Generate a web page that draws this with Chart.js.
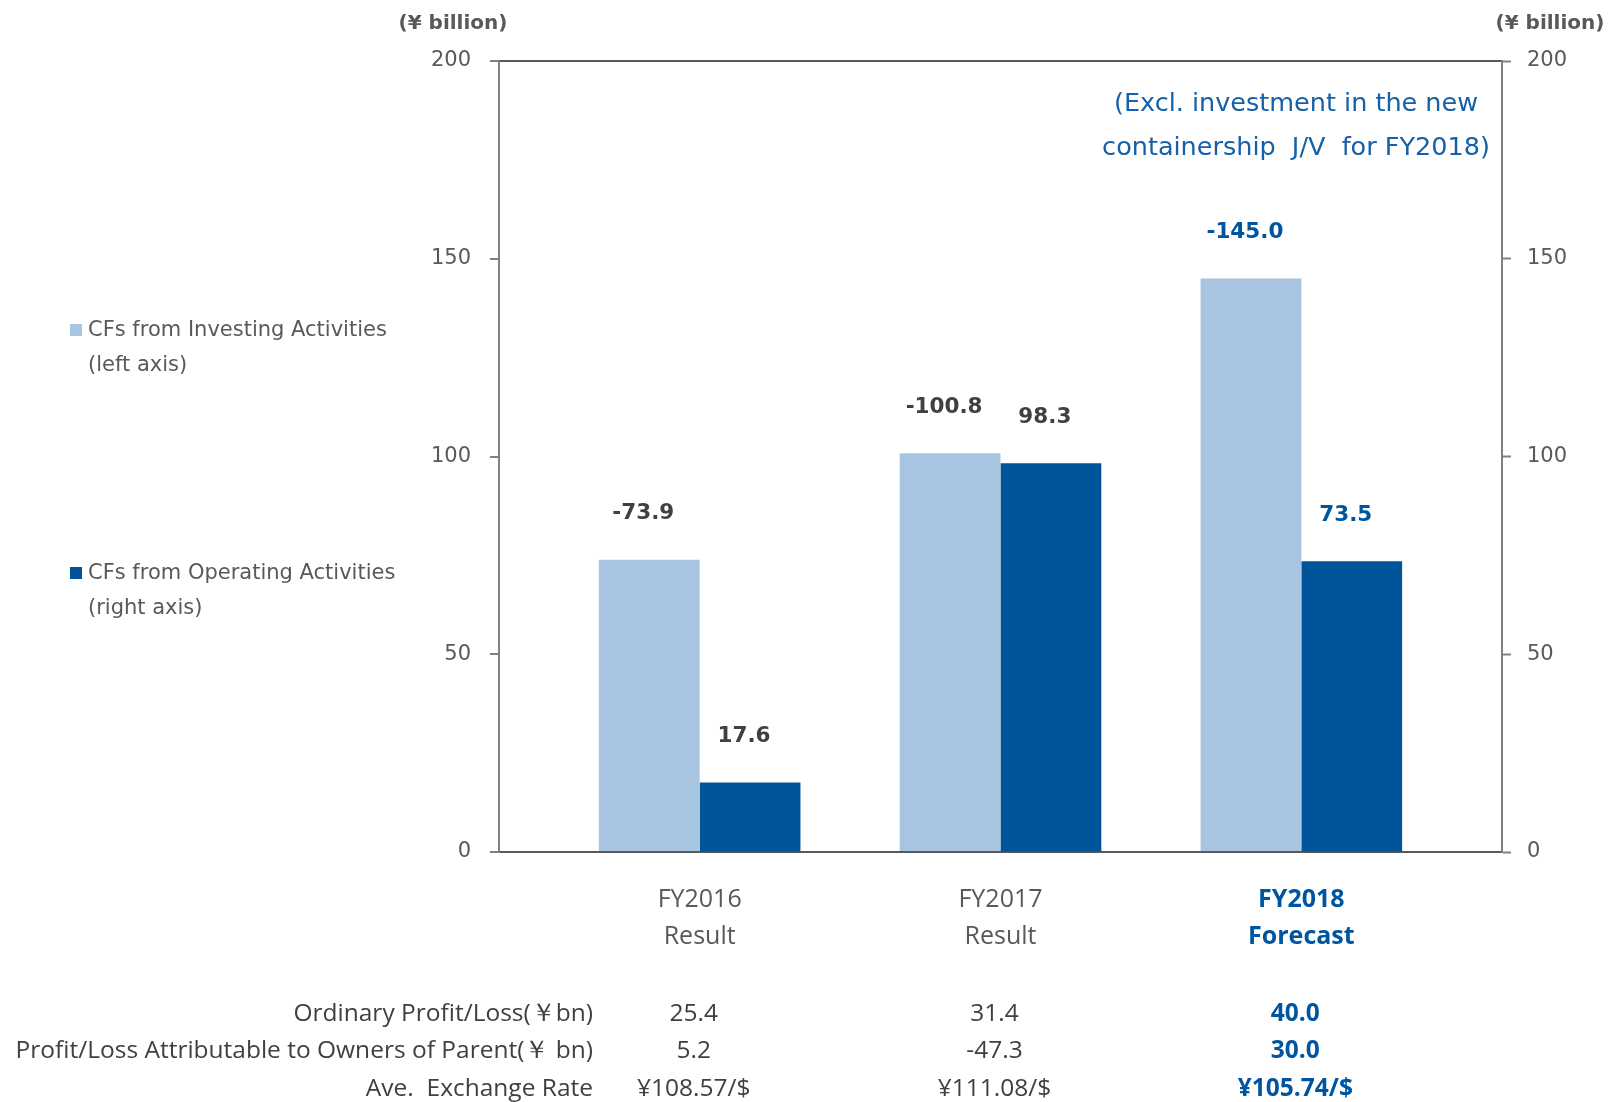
<!DOCTYPE html>
<html>
<head>
<meta charset="utf-8">
<script src="https://cdn.jsdelivr.net/npm/chart.js@4.4.0/dist/chart.umd.min.js"></script>
<style>
  html, body { margin: 0; padding: 0; background: #fff; }
</style>
</head>
<body>
<canvas id="chart" width="1610" height="1102"></canvas>
<script>
var categories = ['FY2016', 'FY2017', 'FY2018'];
var categorySubs = ['Result', 'Result', 'Forecast'];
var investingCF = [-73.9, -100.8, -145.0];
var operatingCF = [17.6, 98.3, 73.5];
var yTicks = [0, 50, 100, 150, 200];
var legendLines = [
    ['CFs from Investing Activities', '(left axis)'],
    ['CFs from Operating Activities', '(right axis)']
];
var unitLabel = '(¥ billion)';
var noteLines = ['(Excl. investment in the new', 'containership  J/V  for FY2018)'];
var tableRows = ['Ordinary Profit/Loss(￥bn)', 'Profit/Loss Attributable to Owners of Parent(￥ bn)', 'Ave.  Exchange Rate'];
var ordinaryProfit = ['25.4', '31.4', '40.0'];
var netProfit = ['5.2', '-47.3', '30.0'];
var exchangeRate = ['¥108.57/$', '¥111.08/$', '¥105.74/$'];

var LIGHT = '#A7C4E0';
var DARK = '#00549A';
var BLUE = '#0055A0';
var GRAY = '#595959';
var TEXT = '#404040';

Chart.defaults.font.family = "'DejaVu Sans', Verdana, sans-serif";

var tableValues = [ordinaryProfit, netProfit, exchangeRate];

var extras = {
    id: 'extras',
    afterDraw: function (chart) {
        var ctx = chart.ctx;
        var area = chart.chartArea;
        var x = chart.scales.x;
        ctx.save();

        // unit labels
        ctx.font = "bold 20px 'DejaVu Sans'";
        ctx.fillStyle = GRAY;
        ctx.textAlign = 'center';
        ctx.textBaseline = 'middle';
        ctx.fillText(unitLabel, area.left - 46, 24);
        ctx.fillText(unitLabel, area.right + 48, 24);

        // note
        ctx.font = "25.5px 'DejaVu Sans'";
        ctx.fillStyle = '#1560A8';
        ctx.fillText(noteLines[0], area.right - 206, 104);
        ctx.fillText(noteLines[1], area.right - 206, 148);

        // legend
        var colors = [LIGHT, DARK];
        var tops = [331, 574];
        ctx.font = "21px 'DejaVu Sans'";
        ctx.textAlign = 'left';
        legendLines.forEach(function (lines, k) {
            ctx.fillStyle = colors[k];
            ctx.fillRect(70, tops[k] - 7, 12, 12);
            ctx.fillStyle = GRAY;
            lines.forEach(function (t, j) {
                ctx.fillText(t, 88, tops[k] + j * 35);
            });
        });

        // value labels
        ctx.font = "bold 21.5px 'DejaVu Sans'";
        ctx.textAlign = 'center';
        [investingCF, operatingCF].forEach(function (src, di) {
            var meta = chart.getDatasetMeta(di);
            meta.data.forEach(function (bar, i) {
                ctx.fillStyle = i === 2 ? BLUE : TEXT;
                ctx.fillText(src[i].toFixed(1), bar.x - 6, bar.y - 46);
            });
        });

        // table below the chart
        var rowY = [1014, 1051, 1089];
        tableRows.forEach(function (label, r) {
            ctx.font = "24.5px 'Open Sans'";
            ctx.fillStyle = TEXT;
            ctx.textAlign = 'right';
            ctx.fillText(label, 593, rowY[r]);
            ctx.textAlign = 'center';
            tableValues[r].forEach(function (v, i) {
                ctx.font = (i === 2 ? 'bold ' : '') + "24.5px 'Open Sans'";
                ctx.fillStyle = i === 2 ? BLUE : TEXT;
                ctx.fillText(v, x.getPixelForValue(i) - 6, rowY[r]);
            });
        });

        ctx.restore();
    }
};

new Chart(document.getElementById('chart'), {
    type: 'bar',
    data: {
        labels: categories.map(function (c, i) { return i; }),
        datasets: [{
            label: legendLines[0].join(' '),
            data: investingCF.map(Math.abs),
            backgroundColor: LIGHT,
            yAxisID: 'y',
            categoryPercentage: 0.67,
            barPercentage: 1
        }, {
            label: legendLines[1].join(' '),
            data: operatingCF,
            backgroundColor: DARK,
            yAxisID: 'y1',
            categoryPercentage: 0.67,
            barPercentage: 1
        }]
    },
    options: {
        responsive: false,
        animation: false,
        layout: { padding: { top: 61 } },
        plugins: {
            legend: { display: false },
            tooltip: { enabled: false }
        },
        scales: {
            x: {
                type: 'linear',
                offset: false,
                bounds: 'data',
                min: -0.667,
                max: 2.667,
                afterBuildTicks: function (axis) {
                    axis.ticks = categories.map(function (c, i) { return { value: i }; });
                    axis.min = -0.667;
                    axis.max = 2.667;
                },
                afterFit: function (axis) { axis.height = 250; },
                grid: { display: false, drawTicks: false, offset: false },
                border: { color: GRAY, width: 2 },
                ticks: {
                    padding: 29,
                    autoSkip: false,
                    maxRotation: 0,
                    callback: function (v) { return [categories[v], categorySubs[v]]; },
                    color: function (c) { return c.index === 2 ? BLUE : GRAY; },
                    font: function (c) {
                        return { family: "'Open Sans'", size: 25, weight: c.index === 2 ? 'bold' : 'normal', lineHeight: 1.5 };
                    }
                }
            },
            y: {
                position: 'left',
                min: 0,
                max: 200,
                afterBuildTicks: function (axis) {
                    axis.ticks = yTicks.map(function (v) { return { value: v }; });
                },
                afterFit: function (axis) { axis.width = 499; },
                ticks: { padding: 19, color: GRAY, font: { size: 21 } },
                grid: {
                    color: function (c) { return c.tick && c.tick.value === 200 ? GRAY : 'rgba(0,0,0,0)'; },
                    lineWidth: 2,
                    tickColor: '#808080',
                    tickLength: 9,
                    tickWidth: 2
                },
                border: { color: '#808080', width: 2 }
            },
            y1: {
                position: 'right',
                min: 0,
                max: 200,
                afterBuildTicks: function (axis) {
                    axis.ticks = yTicks.map(function (v) { return { value: v }; });
                },
                afterFit: function (axis) { axis.width = 108; },
                ticks: { padding: 16, color: GRAY, font: { size: 21 } },
                grid: {
                    drawOnChartArea: false,
                    tickColor: '#808080',
                    tickLength: 9,
                    tickWidth: 2
                },
                border: { color: '#808080', width: 2 }
            }
        }
    },
    plugins: [extras]
});
</script>
</body>
</html>
